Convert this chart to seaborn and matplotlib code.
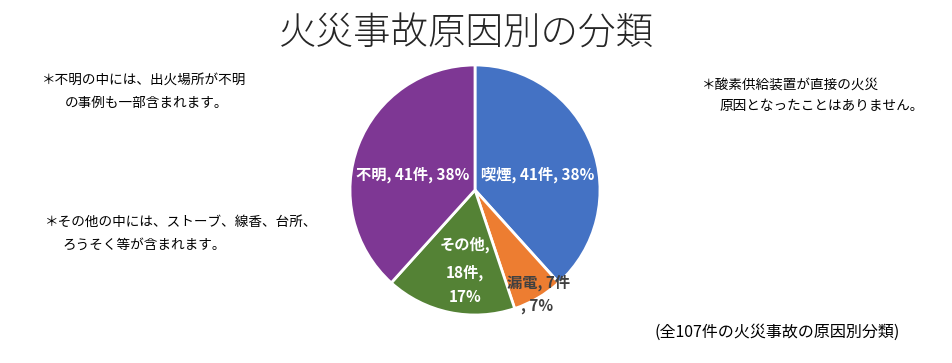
import matplotlib
matplotlib.use("Agg")
import matplotlib.pyplot as plt
import seaborn as sns

sns.set_theme(style="white")
plt.rcParams['font.family'] = ['Noto Sans CJK JP', 'DejaVu Sans']

categories = ["喫煙", "漏電", "その他", "不明"]
counts = [41, 7, 18, 41]
percents = [38, 7, 17, 38]
colors = ["#4472C4", "#ED7D31", "#548235", "#7E3794"]

fig = plt.figure(figsize=(9.53, 3.63), dpi=100)
W, H = 953, 363
cx, cy, r = 475, 190, 125
ax = fig.add_axes([(cx - r) / W, (H - cy - r) / H, 2 * r / W, 2 * r / H])
ax.pie(counts, colors=colors, startangle=90, counterclock=False,
       wedgeprops=dict(edgecolor="white", linewidth=2))
ax.set_xlim(-1, 1)
ax.set_ylim(-1, 1)
ax.axis("off")

fs = 11
ax.text(0.5, 0.12, f"{categories[0]}, {counts[0]}件, {percents[0]}%", color="white",
        fontsize=fs, fontweight="bold", ha="center", va="center")
ax.text(-0.5, 0.12, f"{categories[3]}, {counts[3]}件, {percents[3]}%", color="white",
        fontsize=fs, fontweight="bold", ha="center", va="center")
ax.text(-0.08, -0.44, f"{categories[2]},", color="white", fontsize=fs,
        fontweight="bold", ha="center", va="center")
ax.text(-0.08, -0.66, f"{counts[2]}件,", color="white", fontsize=fs,
        fontweight="bold", ha="center", va="center")
ax.text(-0.08, -0.86, f"{percents[2]}%", color="white", fontsize=fs,
        fontweight="bold", ha="center", va="center")
ax.text(0.51, -0.74, f"{categories[1]}, {counts[1]}件", color="#404040", fontsize=fs,
        fontweight="bold", ha="center", va="center")
ax.text(0.5, -0.93, f", {percents[1]}%", color="#404040", fontsize=fs,
        fontweight="bold", ha="center", va="center")

fig.text(466 / W, 1 - 34 / H, "火災事故原因別の分類", fontsize=27, fontweight="light",
         color="#262626", ha="center", va="center")

nfs = 9.8
fig.text(42 / W, 1 - 80 / H, "＊不明の中には、出火場所が不明", fontsize=nfs, ha="left", va="center", color="black")
fig.text(65 / W, 1 - 103 / H, "の事例も一部含まれます。", fontsize=nfs, ha="left", va="center", color="black")
fig.text(45 / W, 1 - 222 / H, "＊その他の中には、ストーブ、線香、台所、", fontsize=nfs, ha="left", va="center", color="black")
fig.text(63 / W, 1 - 245 / H, "ろうそく等が含まれます。", fontsize=nfs, ha="left", va="center", color="black")
fig.text(702 / W, 1 - 85 / H, "＊酸素供給装置が直接の火災", fontsize=nfs, ha="left", va="center", color="black")
fig.text(720 / W, 1 - 106 / H, "原因となったことはありません。", fontsize=nfs, ha="left", va="center", color="black")
fig.text(655 / W, 1 - 332 / H, "(全107件の火災事故の原因別分類)", fontsize=11.5, ha="left", va="center", color="black")

fig.savefig("out.png", dpi=100, facecolor="white")
